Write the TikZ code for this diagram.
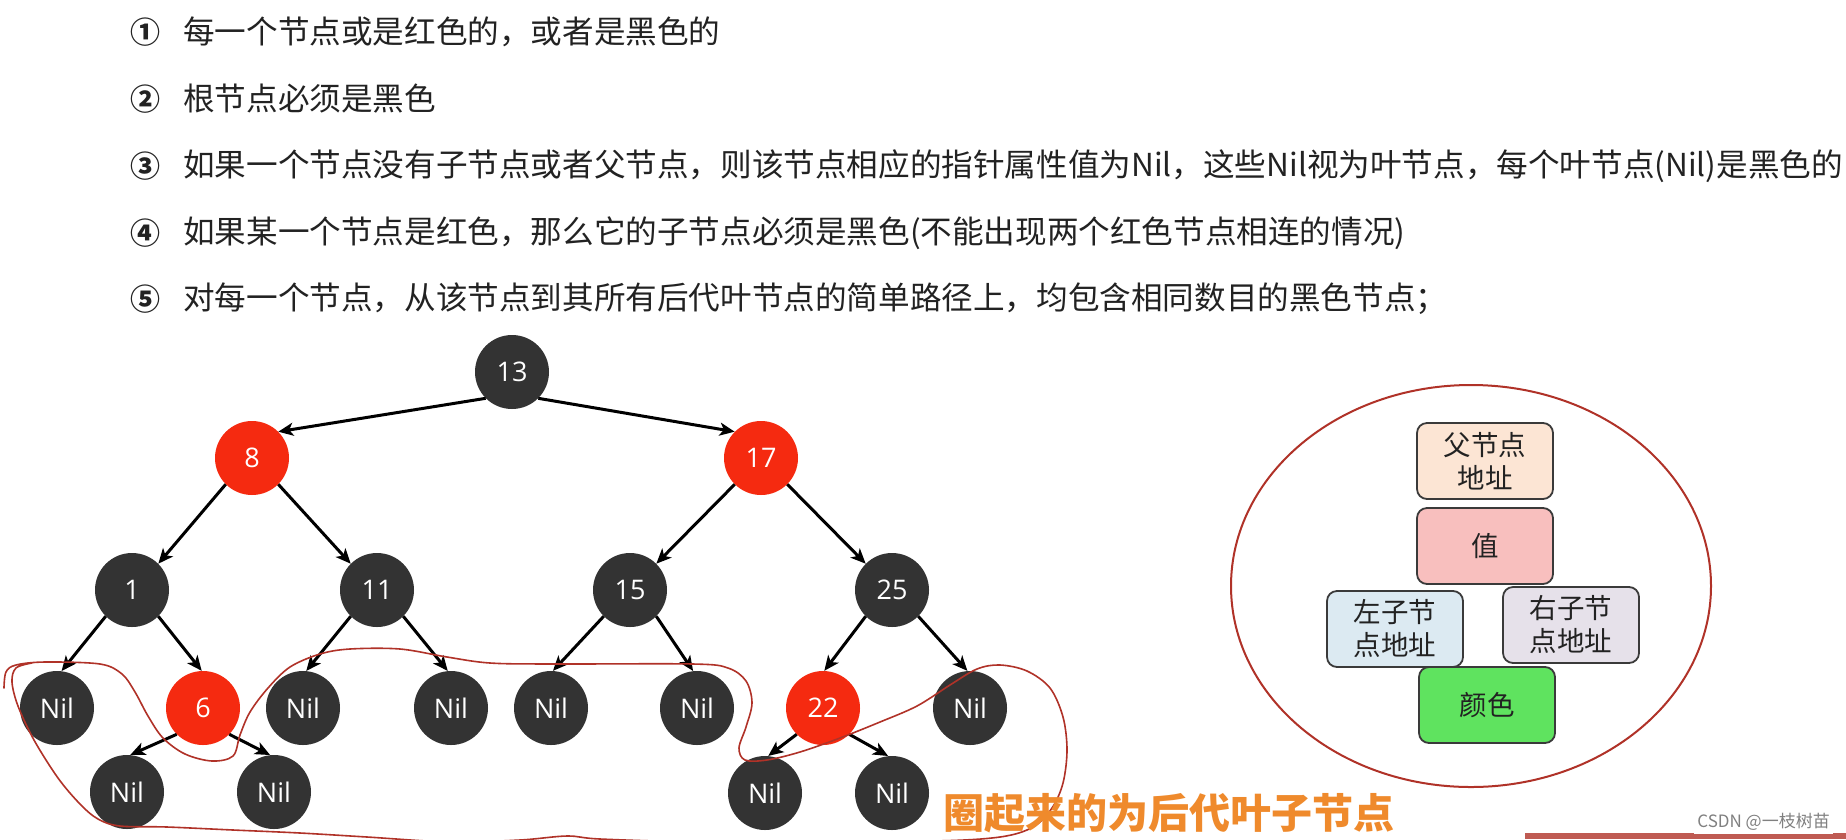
\documentclass[tikz,border=0pt]{standalone}
\usepackage{fontspec}
\setmainfont{Open Sans}
\newfontfamily\cjk{Noto Sans CJK SC}
\usetikzlibrary{arrows.meta}
\definecolor{nodeblack}{HTML}{333333}
\definecolor{nodered}{HTML}{F52A10}
\definecolor{textgray}{HTML}{222222}
\definecolor{boxline}{HTML}{3A3A3A}
\definecolor{peach}{HTML}{FCE5D4}
\definecolor{pinkv}{HTML}{F8BFBE}
\definecolor{lblue}{HTML}{DCEAF2}
\definecolor{lpurp}{HTML}{E6E1EA}
\definecolor{lgreen}{HTML}{5FE35F}
\definecolor{loopred}{HTML}{B03228}
\definecolor{orangec}{HTML}{EF8A2C}
\begin{document}
\begin{tikzpicture}[x=1pt,y=-1pt,
  rb/.style={circle, minimum size=74pt, inner sep=0pt, fill=nodeblack, text=white, font=\fontsize{27}{30}\selectfont},
  rr/.style={rb, fill=nodered, text=white},
  edge/.style={line width=3pt, -{Stealth[length=15pt,width=13pt,inset=4pt]}, black},
  rule/.style={anchor=west, font=\cjk\fontsize{31.6}{36}\selectfont, text=textgray, inner sep=0pt},
  num/.style={font=\cjk\bfseries\fontsize{30}{36}\selectfont, text=textgray, inner sep=0pt},
  field/.style={draw=boxline, line width=1.8pt, rounded corners=10pt, minimum width=136pt, minimum height=76pt, align=center, font=\cjk\fontsize{27.5}{33}\selectfont, text=textgray, inner sep=0pt}
]
\useasboundingbox[fill=white] (0,0) rectangle (1846,839);

% rules
\node[num] (c1) at (145,32) {①};
\node[num] (c2) at (145,99) {②};
\node[num] (c3) at (145,166) {③};
\node[num] (c4) at (145,233) {④};
\node[num] (c5) at (145,299) {⑤};
\node[rule] (r1) at (183,32) {每一个节点或是红色的，或者是黑色的};
\node[rule] (r2) at (183,99) {根节点必须是黑色};
\node[rule] (r3) at (183,166) {如果一个节点没有子节点或者父节点，则该节点相应的指针属性值为Nil，这些Nil视为叶节点，每个叶节点(Nil)是黑色的};
\node[rule] (r4) at (183,233) {如果某一个节点是红色，那么它的子节点必须是黑色(不能出现两个红色节点相连的情况)};
\node[rule] (r5) at (183,299) {对每一个节点，从该节点到其所有后代叶节点的简单路径上，均包含相同数目的黑色节点；};

% tree nodes
\node[rb] (n13) at (512,372) {13};
\node[rr] (n8) at (252,458) {8};
\node[rr] (n17) at (761,458) {17};
\node[rb] (n1) at (132,590) {1};
\node[rb] (n11) at (377,590) {11};
\node[rb] (n15) at (630,590) {15};
\node[rb] (n25) at (892,590) {25};
\node[rb] (l1) at (57,708) {Nil};
\node[rr] (n6) at (203,708) {6};
\node[rb] (l2) at (303,708) {Nil};
\node[rb] (l3) at (451,708) {Nil};
\node[rb] (l4) at (551,708) {Nil};
\node[rb] (l5) at (697,708) {Nil};
\node[rr] (n22) at (823,708) {22};
\node[rb] (l6) at (970,708) {Nil};
\node[rb] (l7) at (127,792) {Nil};
\node[rb] (l8) at (274,792) {Nil};
\node[rb] (l9) at (765,793) {Nil};
\node[rb] (l10) at (892,793) {Nil};

% edges
\draw[edge] (n13.225) -- (n8.45);
\draw[edge] (n13.-45) -- (n17.135);
\draw[edge] (n8.225) -- (n1.45);
\draw[edge] (n8.-45) -- (n11.135);
\draw[edge] (n17.225) -- (n15.45);
\draw[edge] (n17.-45) -- (n25.135);
\draw[edge] (n1.225) -- (l1.83);
\draw[edge] (n1.-45) -- (n6.92);
\draw[edge] (n11.225) -- (l2.85);
\draw[edge] (n11.-45) -- (l3.95);
\draw[edge] (n15.225) -- (l4.87);
\draw[edge] (n15.-45) -- (l5.96);
\draw[edge] (n25.225) -- (n22.88);
\draw[edge] (n25.-45) -- (l6.94);
\draw[edge] (n6.225) -- (l7.85);
\draw[edge] (n6.-45) -- (l8.96);
\draw[edge] (n22.225) -- (l9.85);
\draw[edge] (n22.-45) -- (l10.96);

% hand-drawn loop
\draw[loopred, line width=1.6pt, line cap=round, line join=round]
  plot[smooth, tension=0.55] coordinates {
  (4,688) (6,672) (16,665) (45,662) (100,664) (122,674) (135,692) (148,716)
  (163,738) (185,754) (212,761) (233,756) (240,735) (250,712) (268,688)
  (290,667) (320,654) (350,649) (400,649) (447,657) (490,663) (553,664)
  (693,664) (728,668) (746,681) (752,703) (746,727) (739,748) (745,760)
  (767,760) (800,752) (840,738) (880,722) (917,706) (950,685) (977,669)
  (1000,665) (1027,671) (1050,688) (1063,717) (1067,750) (1063,783)
  (1052,808) (1033,827) (1000,837) (933,841) (800,841) (700,842) (600,839)
  (567,836) (520,840) (450,842) (367,837) (300,833) (233,830) (167,827)
  (120,826) (98,819) (80,804) (58,778) (34,740) (18,706) (12,682) (16,668) (32,663)};

% node structure panel
\draw[loopred, line width=2pt] (1471,586) ellipse [x radius=240pt, y radius=201pt];
\node[field, fill=peach] (fparent) at (1485,461) {父节点\\地址};
\node[field, fill=pinkv] (fval) at (1485,546) {值};
\node[field, fill=lblue] (fleft) at (1395,629) {左子节\\点地址};
\node[field, fill=lpurp] (fright) at (1571,625) {右子节\\点地址};
\node[field, fill=lgreen] (fcolor) at (1487,705) {颜色};

% caption and watermark
\node[anchor=west, inner sep=0pt, text=orangec, font=\cjk\bfseries\fontsize{41}{46}\selectfont] (caption) at (943,813) {圈起来的为后代叶子节点};
\fill[loopred, opacity=0.8] (1525,833) rectangle (1846,839);
\node[anchor=east, inner sep=3pt, fill=white, text=gray, font=\cjk\fontsize{17}{20}\selectfont] (wm) at (1833,822) {CSDN @一枝树苗};
\end{tikzpicture}
\end{document}
